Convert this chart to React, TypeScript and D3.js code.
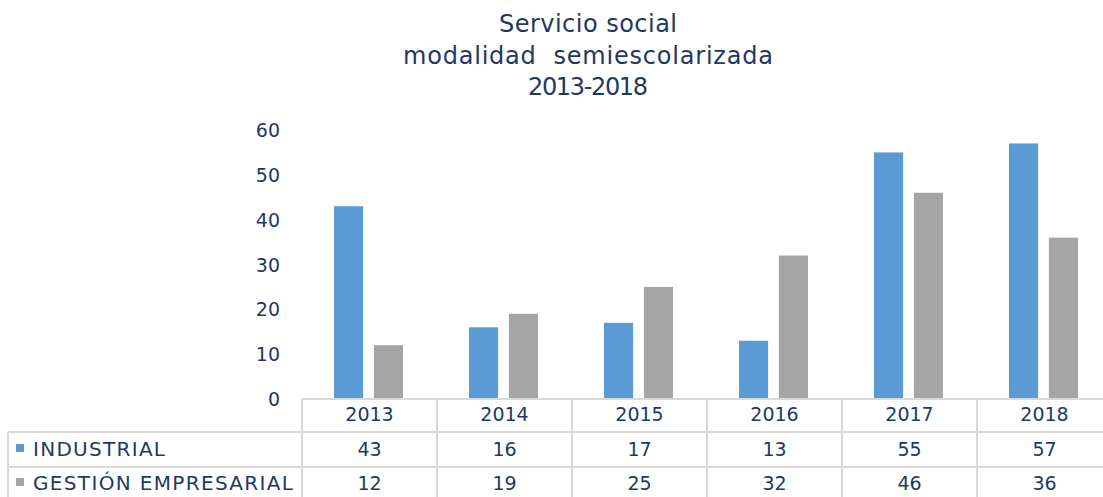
import { useEffect, useRef } from "react";
import * as d3 from "d3";

const years = ["2013", "2014", "2015", "2016", "2017", "2018"];
const industrial = [43, 16, 17, 13, 55, 57];
const gestion = [12, 19, 25, 32, 46, 36];
const seriesNames = ["INDUSTRIAL", "GESTIÓN EMPRESARIAL"];
const colors = ["#5B9BD5", "#A5A5A5"];
const yTicks = [0, 10, 20, 30, 40, 50, 60];
const titleLines = ["Servicio social", "modalidad  semiescolarizada", "2013-2018"];

const W = 1103;
const H = 497;
const navy = "#1F3864";
const font = "'DejaVu Sans', sans-serif";
// widths the Montserrat-like text takes in the original
const titleWidths = [178, 370, 120];
const nameWidths = [132, 260];

const App = () => {
  const svgRef = useRef<SVGSVGElement>(null);

  useEffect(() => {
    const svg = d3.select(svgRef.current);
    svg.selectAll("*").remove();

    const x = d3.scaleBand().domain(years).range([302, 1112]);
    const y = d3.scaleLinear().domain([0, 60]).range([399, 130]);
    const inner = d3
      .scaleBand()
      .domain(["0", "1"])
      .range([32, 101])
      .paddingInner(0.27);

    // title
    svg
      .append("g")
      .selectAll("text")
      .data(titleLines)
      .join("text")
      .attr("x", 588)
      .attr("y", (d, i) => 32 + i * 31.5)
      .attr("text-anchor", "middle")
      .attr("fill", navy)
      .attr("textLength", (d, i) => titleWidths[i])
      .attr("lengthAdjust", "spacing")
      .style("font-size", "24px")
      .style("white-space", "pre")
      .text((d) => d);

    // y axis labels
    svg
      .append("g")
      .selectAll("text")
      .data(yTicks)
      .join("text")
      .attr("x", 280)
      .attr("y", (d) => y(d) + 7)
      .attr("text-anchor", "end")
      .attr("fill", navy)
      .style("font-size", "19px")
      .text((d) => d);

    // bars
    const data = [industrial, gestion];
    data.forEach((vals, s) => {
      svg
        .append("g")
        .selectAll("rect")
        .data(vals)
        .join("rect")
        .attr("x", (d, i) => (x(years[i]) as number) + (inner(String(s)) as number))
        .attr("y", (d) => y(d))
        .attr("width", inner.bandwidth())
        .attr("height", (d) => y(0) - y(d))
        .attr("fill", colors[s]);
    });

    // data table
    const grid = svg.append("g").attr("stroke", "#D9D9D9").attr("stroke-width", 2);
    const rowY = [399, 432, 467, 502];
    grid.append("line").attr("x1", 302).attr("x2", W).attr("y1", rowY[0]).attr("y2", rowY[0]);
    grid.append("line").attr("x1", 8).attr("x2", W).attr("y1", rowY[1]).attr("y2", rowY[1]);
    grid.append("line").attr("x1", 8).attr("x2", W).attr("y1", rowY[2]).attr("y2", rowY[2]);
    grid.append("line").attr("x1", 8).attr("x2", 8).attr("y1", rowY[1]).attr("y2", H);
    grid
      .selectAll("line.v")
      .data(years)
      .join("line")
      .attr("class", "v")
      .attr("x1", (d) => x(d) as number)
      .attr("x2", (d) => x(d) as number)
      .attr("y1", rowY[0])
      .attr("y2", H);

    svg
      .append("g")
      .selectAll("text")
      .data(years)
      .join("text")
      .attr("x", (d) => (x(d) as number) + x.bandwidth() / 2)
      .attr("y", 421)
      .attr("text-anchor", "middle")
      .attr("fill", navy)
      .style("font-size", "19px")
      .text((d) => d);

    data.forEach((vals, s) => {
      const g = svg.append("g");
      const ty = 456 + s * 34;
      g.append("rect")
        .attr("x", 16)
        .attr("y", ty - 12)
        .attr("width", 8)
        .attr("height", 8)
        .attr("fill", colors[s]);
      g.append("text")
        .attr("x", 33)
        .attr("y", ty)
        .attr("fill", navy)
        .attr("textLength", nameWidths[s])
        .attr("lengthAdjust", "spacing")
        .style("font-size", "20px")
        .text(seriesNames[s]);
      g.selectAll("text.v")
        .data(vals)
        .join("text")
        .attr("class", "v")
        .attr("x", (d, i) => (x(years[i]) as number) + x.bandwidth() / 2)
        .attr("y", ty)
        .attr("text-anchor", "middle")
        .attr("fill", navy)
        .style("font-size", "19px")
        .text((d) => d);
    });
  }, []);

  return (
    <div style={{ position: "fixed", left: 0, top: 0, width: W, height: H, background: "#fff" }}>
      <svg ref={svgRef} width={W} height={H} style={{ fontFamily: font, display: "block" }} />
    </div>
  );
};

export default App;
